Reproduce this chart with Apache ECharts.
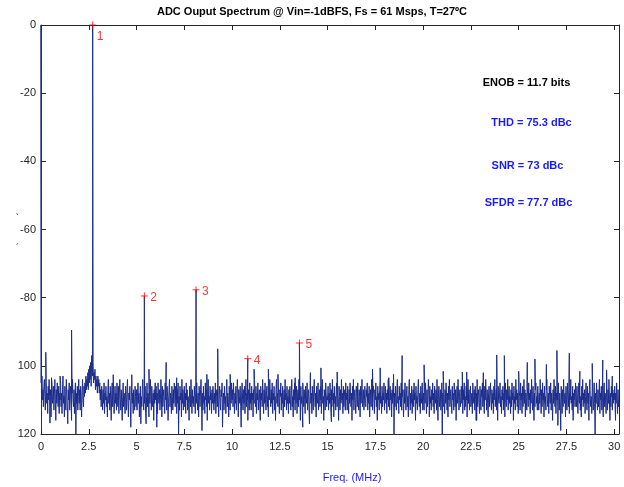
<!DOCTYPE html>
<html>
<head>
<meta charset="utf-8">
<script src="https://cdn.jsdelivr.net/npm/echarts@6/dist/echarts.min.js"></script>
<style>
html,body{margin:0;padding:0;background:#fff;}
#chart{width:624px;height:487px;}
</style>
</head>
<body>
<div id="chart"></div>
<script>
// ---- data ----
const titleText = 'ADC Ouput Spectrum @ Vin=-1dBFS, Fs = 61 Msps, T=27ºC';
const xAxisTitle = 'Freq. (MHz)';
const yAxisTitle = '(dBFS)';
const xTickValues = [0, 2.5, 5, 7.5, 10, 12.5, 15, 17.5, 20, 22.5, 25, 27.5, 30];
const yTickValues = [-120, -100, -80, -60, -40, -20, 0];
const yTickLabels = ['120', '100', '-80', '-60', '-40', '-20', '0'];
const statLines = ['ENOB = 11.7 bits', 'THD = 75.3 dBc', 'SNR = 73 dBc', 'SFDR = 77.7 dBc'];

const noiseStartMHz = 0;
const noiseStepMHz = 0.025;
const noiseDb = [
-105,-108,-103,-110,-107,-112,-106,-104,-109,-113,-107,-105,-111,-108,-114,-106,-110,-104,-109,-112,-107,-115,-108,-105,-111,-109,-106,-113,-108,-104,-110,-116,-107,-111,-105,-109,-112,-106,-114,-108,
-110,-105,-112,-108,-114,-107,-103,-111,-109,-115,-106,-110,-113,-104,-108,-112,-117,-107,-110,-105,-113,-109,-106,-111,-116,-108,-104,-110,-112,-107,-114,-109,-105,-120,-108,-111,-106,-113,-109,-104,
-111,-107,-113,-106,-109,-115,-108,-104,-110,-112,-106,-109,-105,-108,-103,-107,-104,-106,-102,-107,-101,-105,-100,-104,-99,-106,-98,-101,-103,-99,-105,-102,-104,-101,-107,-103,-106,-104,-108,-103,
-106,-104,-108,-105,-110,-107,-112,-106,-109,-113,-107,-111,-105,-114,-108,-110,-106,-112,-109,-115,-107,-104,-111,-108,-113,-106,-110,-116,-108,-105,-112,-109,-107,-114,-110,-106,-111,-108,-113,-105,
-109,-112,-106,-114,-108,-104,-110,-113,-107,-111,-116,-109,-105,-112,-108,-110,-114,-106,-109,-113,-107,-104,-111,-115,-108,-110,-106,-112,-118,-109,-105,-111,-108,-114,-107,-110,-113,-106,-109,-112,
-107,-113,-109,-105,-111,-108,-115,-110,-106,-117,-109,-112,-107,-104,-110,-113,-108,-111,-106,-114,-117,-109,-105,-112,-108,-110,-115,-107,-111,-104,-109,-113,-106,-110,-112,-108,-116,-107,-111,-105,
-110,-106,-112,-108,-114,-105,-109,-111,-107,-113,-110,-104,-108,-115,-106,-112,-109,-107,-111,-114,-105,-110,-108,-113,-106,-109,-116,-111,-107,-104,-112,-108,-110,-114,-106,-109,-113,-107,-111,-105,
-108,-112,-106,-110,-114,-107,-111,-105,-120,-109,-113,-106,-110,-108,-115,-104,-111,-107,-113,-109,-106,-112,-108,-114,-105,-110,-107,-113,-109,-111,-116,-106,-108,-112,-104,-110,-114,-107,-111,-109,
-112,-106,-109,-114,-107,-111,-105,-110,-113,-108,-115,-106,-109,-112,-107,-104,-110,-119,-108,-113,-106,-111,-109,-114,-105,-110,-107,-112,-116,-108,-104,-111,-109,-113,-106,-110,-108,-114,-107,-111,
-106,-110,-113,-108,-111,-105,-114,-109,-107,-112,-104,-110,-115,-108,-106,-111,-113,-107,-109,-105,-118,-110,-108,-113,-106,-111,-109,-114,-107,-104,-112,-108,-110,-115,-106,-109,-113,-107,-111,-105,
-110,-107,-112,-105,-109,-114,-108,-111,-106,-113,-110,-104,-108,-115,-107,-111,-109,-106,-112,-118,-108,-105,-110,-113,-107,-111,-106,-114,-109,-104,-112,-108,-110,-116,-107,-109,-113,-105,-111,-108,
-113,-106,-110,-108,-115,-107,-111,-104,-109,-112,-106,-114,-108,-110,-105,-113,-109,-107,-111,-116,-106,-110,-108,-112,-104,-109,-114,-107,-111,-105,-110,-113,-108,-106,-112,-109,-115,-107,-110,-104,
-109,-112,-107,-111,-105,-114,-108,-110,-106,-113,-109,-116,-107,-104,-111,-108,-112,-106,-110,-114,-107,-109,-105,-113,-108,-111,-106,-115,-109,-107,-112,-104,-110,-108,-113,-106,-111,-109,-114,-107,
-111,-106,-110,-113,-108,-104,-112,-109,-115,-107,-110,-105,-113,-108,-111,-106,-114,-109,-107,-112,-104,-110,-108,-116,-106,-111,-109,-113,-105,-108,-112,-107,-110,-114,-106,-109,-111,-105,-113,-108,
-107,-112,-117,-109,-105,-111,-108,-114,-106,-110,-113,-107,-104,-109,-112,-108,-115,-106,-110,-111,-105,-113,-109,-107,-112,-106,-110,-114,-108,-104,-111,-109,-116,-107,-110,-113,-105,-108,-112,-109,
-110,-106,-113,-108,-111,-105,-109,-114,-107,-112,-104,-110,-108,-115,-106,-111,-109,-113,-107,-105,-112,-108,-110,-116,-106,-109,-113,-107,-111,-104,-110,-108,-114,-106,-112,-109,-107,-113,-105,-110,
-108,-113,-106,-110,-114,-107,-111,-105,-109,-112,-108,-116,-106,-110,-104,-113,-109,-107,-111,-114,-106,-108,-112,-105,-110,-113,-107,-109,-115,-106,-111,-108,-104,-112,-109,-107,-113,-110,-106,-111,
-112,-107,-109,-105,-113,-108,-111,-106,-115,-110,-107,-112,-104,-109,-113,-108,-106,-111,-114,-107,-110,-105,-112,-109,-116,-106,-110,-108,-113,-107,-104,-111,-109,-114,-106,-112,-108,-110,-105,-113,
-109,-106,-111,-108,-114,-107,-110,-104,-112,-109,-113,-106,-110,-108,-115,-107,-111,-105,-109,-121,-108,-112,-106,-110,-113,-107,-104,-111,-109,-114,-106,-110,-108,-112,-105,-113,-109,-107,-111,-115,
-107,-111,-105,-110,-113,-108,-106,-112,-109,-115,-107,-104,-110,-113,-108,-111,-106,-114,-109,-107,-112,-105,-110,-108,-116,-106,-111,-109,-113,-107,-104,-110,-112,-108,-114,-106,-109,-111,-105,-113,
-110,-108,-113,-106,-111,-105,-109,-114,-107,-112,-110,-104,-108,-115,-106,-111,-109,-113,-107,-110,-105,-112,-108,-114,-106,-109,-111,-107,-113,-104,-110,-116,-108,-106,-112,-109,-107,-113,-110,-105,
-121,-108,-112,-106,-110,-114,-107,-111,-105,-109,-113,-108,-115,-106,-110,-104,-112,-109,-107,-111,-114,-106,-110,-108,-113,-105,-109,-112,-107,-116,-110,-106,-111,-104,-108,-113,-109,-107,-112,-110,
-106,-111,-108,-114,-107,-110,-105,-113,-109,-112,-106,-110,-115,-108,-104,-111,-107,-113,-109,-106,-112,-110,-108,-114,-105,-109,-111,-107,-113,-106,-110,-116,-108,-104,-112,-109,-107,-111,-114,-106,
-110,-113,-107,-109,-105,-112,-108,-111,-114,-106,-110,-104,-109,-113,-107,-111,-115,-108,-106,-112,-109,-105,-110,-113,-107,-111,-108,-114,-106,-110,-104,-112,-109,-107,-113,-108,-116,-106,-110,-111,
-108,-105,-112,-109,-114,-107,-110,-106,-113,-108,-111,-115,-105,-109,-112,-107,-110,-104,-113,-108,-106,-111,-109,-114,-107,-112,-105,-110,-108,-116,-106,-111,-109,-113,-104,-110,-107,-112,-108,-114,
-111,-107,-109,-113,-105,-110,-108,-114,-106,-112,-109,-104,-111,-107,-115,-108,-110,-113,-106,-109,-112,-105,-110,-108,-114,-107,-111,-104,-109,-113,-106,-110,-116,-108,-112,-107,-105,-111,-109,-113,
-106,-110,-113,-108,-111,-104,-109,-114,-107,-112,-105,-110,-108,-115,-106,-111,-109,-113,-107,-104,-110,-112,-108,-114,-106,-109,-111,-105,-113,-108,-110,-116,-107,-111,-104,-109,-112,-106,-114,-108,
-110,-107,-112,-105,-109,-113,-108,-111,-119,-106,-110,-114,-107,-112,-104,-109,-111,-108,-115,-106,-110,-113,-105,-109,-112,-107,-114,-108,-110,-104,-111,-109,-113,-106,-116,-108,-110,-107,-112,-105,
-109,-112,-106,-110,-114,-108,-105,-111,-107,-113,-109,-115,-106,-110,-104,-112,-108,-111,-107,-114,-109,-105,-110,-113,-106,-111,-108,-116,-107,-104,-110,-112,-109,-114,-106,-108,-113,-110,-105,-111,
-121,-108,-111,-105,-110,-113,-107,-112,-109,-104,-114,-108,-110,-106,-113,-109,-111,-115,-107,-105,-112,-108,-110,-114,-106,-109,-113,-107,-111,-104,-110,-116,-108,-112,-106,-109,-113,-107,-111,-108,
-110,-106,-113,-108,-111,-105,-109,-114,-107,-112,-110
];
// isolated spur bins: [MHz, dB]
const spurBins = [
[0, 0], [0.25, -96], [1.6, -89.5], [2.65, -97], [6.55, -99], [9.25, -95],
[11.15, -101], [11.9, -101], [14.65, -100.6], [17.35, -101], [17.75, -100.6],
[18.9, -97], [20.05, -99.7], [21.05, -101.6], [22.05, -101.8], [23.85, -96.8],
[24.25, -97], [25.45, -99], [25.85, -98], [26.45, -99.6], [27.0, -95.5],
[27.65, -96.3], [28.85, -99.3], [29.4, -98.3]
];
// smaller excursions of the noise floor: [MHz, dB]
const minorBins = [
[0.55, -103.5], [1.0, -103], [3.78, -102.6], [4.75, -102.6], [5.65, -101], [7.1, -103.5],
[8.68, -102.5], [9.9, -102.5], [12.4, -102.5], [13.3, -103.5], [14.1, -102], [15.5, -101.8],
[16.35, -104], [18.2, -103.5], [18.45, -102.5], [22.28, -101.8], [23.15, -102], [25.0, -101.6],
[28.2, -101.6], [29.6, -101.2], [29.9, -103],
[0.47, -116.8], [6.06, -118], [13.7, -118], [15.2, -116.4], [22.8, -116], [27.05, -117.5], [30.07, -116]
];
const harmonicNames = ['1', '2', '3', '4', '5'];
const harmonicMHz = [2.705, 5.41, 8.115, 10.82, 13.525];
const harmonicDb = [0, -79.5, -77.7, -97.9, -93.3];

// ---- build ----
const lineColor = '#1c2d8c';
const axisColor = '#262626';
const blueText = '#1a1aff';
const FONT = '"Liberation Sans", Arial, sans-serif';

let pts = noiseDb.map((v, i) => [noiseStartMHz + i * noiseStepMHz, v]);
spurBins.forEach(p => pts.push([p[0], p[1]]));
minorBins.forEach(p => pts.push([p[0], p[1]]));
harmonicMHz.forEach((f, i) => pts.push([f, harmonicDb[i]]));
pts = pts.map((p, i) => [p[0], p[1], i]).sort((a, b) => a[0] - b[0] || a[2] - b[2]).map(p => [p[0], p[1]]);

const markerData = harmonicNames.map((n, i) => ({
  name: n,
  value: [harmonicMHz[i], harmonicDb[i]],
  label: { offset: i === 0 ? [-2, 12] : [0, 2] }
}));

const chart = echarts.init(document.getElementById('chart'), null, { renderer: 'canvas' });
const axisCommonX = {
  type: 'value', min: 0, max: 30.25, interval: 2.5,
  splitLine: { show: false },
  axisLine: { show: true, onZero: false, lineStyle: { color: axisColor, width: 1 } },
  axisTick: { show: true, inside: true, length: 5, lineStyle: { color: axisColor } }
};
const axisCommonY = {
  type: 'value', min: -120, max: 0, interval: 20,
  splitLine: { show: false },
  axisLine: { show: true, onZero: false, lineStyle: { color: axisColor, width: 1 } },
  axisTick: { show: true, inside: true, length: 5, lineStyle: { color: axisColor } }
};
chart.setOption({
  animation: false,
  backgroundColor: '#fff',
  grid: { left: 41, right: 5, top: 25, bottom: 53, containLabel: false },
  xAxis: [
    Object.assign({}, axisCommonX, {
      position: 'bottom',
      axisLabel: {
        color: axisColor, fontSize: 11, fontFamily: FONT, margin: 7,
        showMaxLabel: false,
        formatter: v => xTickValues.some(t => Math.abs(t - v) < 1e-6) ? String(v) : ''
      }
    }),
    Object.assign({}, axisCommonX, { position: 'top', axisLabel: { show: false } })
  ],
  yAxis: [
    Object.assign({}, axisCommonY, {
      position: 'left',
      axisLine: { show: true, onZero: false, lineStyle: { color: lineColor, width: 1 } },
      axisLabel: {
        color: axisColor, fontSize: 11, fontFamily: FONT, margin: 5,
        formatter: v => { const k = yTickValues.indexOf(Math.round(v)); return k >= 0 ? yTickLabels[k] : ''; }
      }
    }),
    Object.assign({}, axisCommonY, { position: 'right', axisLabel: { show: false } })
  ],
  series: [
    {
      type: 'line', xAxisIndex: 0, yAxisIndex: 0,
      data: pts, showSymbol: false, symbol: 'none',
      lineStyle: { color: lineColor, width: 1 },
      sampling: null, clip: true, z: 2
    },
    {
      type: 'scatter', xAxisIndex: 0, yAxisIndex: 0,
      data: markerData,
      symbol: 'path://M0,-5L0,5M-5,0L5,0',
      symbolSize: 7,
      itemStyle: { color: 'none', borderColor: '#ff0000', borderWidth: 1 },
      label: {
        show: true, position: 'right', distance: 0,
        formatter: p => p.name, color: '#ff0000', fontSize: 12, fontFamily: FONT
      },
      clip: false, z: 5
    }
  ],
  graphic: [
    { type: 'text', left: 'center', top: 6, style: { text: titleText, font: 'bold 11px ' + FONT, fill: '#000' }, z: 10 },
    { type: 'text', x: 352, y: 478, style: { text: xAxisTitle, font: '11px ' + FONT, fill: blueText, align: 'center', verticalAlign: 'middle' }, z: 10 },
    { type: 'text', x: 13, y: 229, rotation: Math.PI / 2, style: { text: yAxisTitle, font: '11px ' + FONT, fill: blueText, align: 'center', verticalAlign: 'middle' }, z: 10 },
    { type: 'rect', shape: { x: 0, y: 200, width: 16.5, height: 60 }, style: { fill: '#fff' }, z: 11 },
    { type: 'text', x: 526.5, y: 83, style: { text: statLines[0], font: 'bold 11px ' + FONT, fill: '#000', align: 'center', verticalAlign: 'middle' }, z: 10 },
    { type: 'text', x: 531.5, y: 123, style: { text: statLines[1], font: 'bold 11px ' + FONT, fill: blueText, align: 'center', verticalAlign: 'middle' }, z: 10 },
    { type: 'text', x: 527.5, y: 166, style: { text: statLines[2], font: 'bold 11px ' + FONT, fill: blueText, align: 'center', verticalAlign: 'middle' }, z: 10 },
    { type: 'text', x: 528.5, y: 203, style: { text: statLines[3], font: 'bold 11px ' + FONT, fill: blueText, align: 'center', verticalAlign: 'middle' }, z: 10 }
  ]
});
</script>
</body>
</html>
